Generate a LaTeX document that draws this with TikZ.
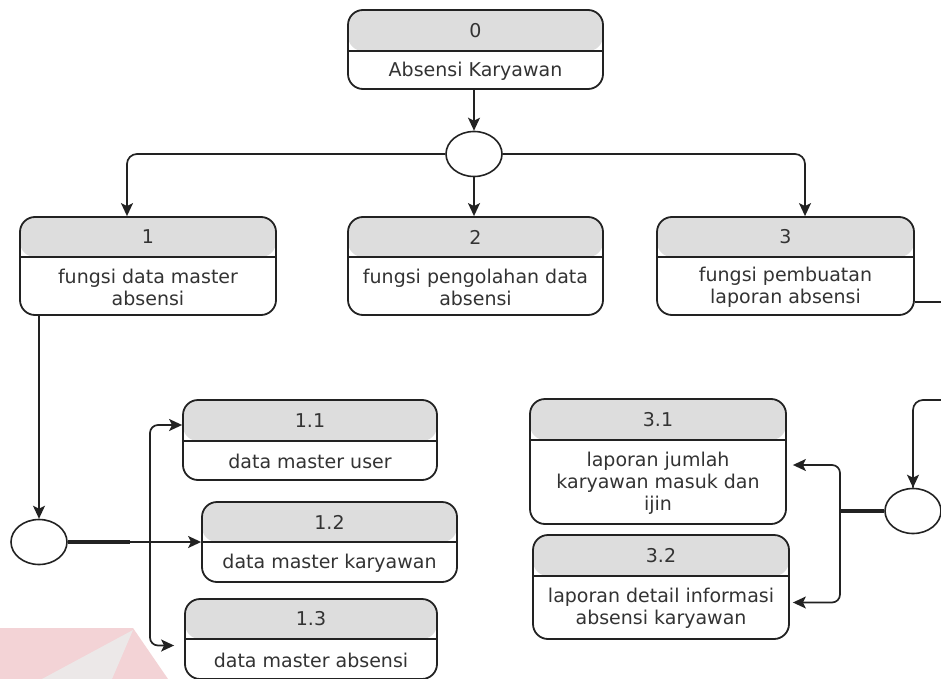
\documentclass[tikz,border=0pt]{standalone}
\usepackage{fontspec}
\setmainfont{DejaVu Sans}
\usetikzlibrary{arrows.meta,shapes.geometric}

\definecolor{linecol}{HTML}{222222}
\definecolor{txtcol}{HTML}{333333}
\definecolor{headfill}{HTML}{DDDDDD}
\definecolor{markpink}{HTML}{F3D3D6}
\definecolor{markgrey}{HTML}{ECE8E8}

\tikzset{
  procbox/.style={draw=linecol, line width=1.8pt, rounded corners=15pt,
    fill=white, inner sep=0pt},
  numtext/.style={text=txtcol, font=\fontsize{19}{22}\selectfont, inner sep=0pt},
  bodytext/.style={text=txtcol, font=\fontsize{19}{22}\selectfont, align=center,
    inner sep=0pt},
  junction/.style={draw=linecol, line width=1.6pt, ellipse, fill=white,
    minimum width=56pt, minimum height=45pt, inner sep=0pt},
  flow/.style={draw=linecol, line width=1.7pt},
  arr/.style={flow, -{Stealth[length=13pt,width=12pt,inset=3pt]}},
  trunk/.style={draw=linecol, line width=3.2pt},
}

% box: name, left, top, right, bottom, divider, number, body text
\newcommand\procnode[8]{%
  \node[procbox, minimum width={(#4-#2)*1pt}, minimum height={(#5-#3)*1pt},
    path picture={%
      \fill[headfill] (path picture bounding box.north west) rectangle
        ([yshift={-(#6-#3)*1pt}]path picture bounding box.north east);
      \draw[linecol, line width=1.8pt]
        ([yshift={-(#6-#3)*1pt}]path picture bounding box.north west) --
        ([yshift={-(#6-#3)*1pt}]path picture bounding box.north east);}]
    (#1) at ({(#2+#4)/2},{(#3+#5)/2}) {};
  \node[numtext] (#1-num) at ({(#2+#4)/2},{(#3+#6)/2}) {#7};
  \node[bodytext] (#1-txt) at ({(#2+#4)/2},{(#6+#5)/2+1}) {#8};
}

\begin{document}
\begin{tikzpicture}[x=1pt, y=-1pt]
  \clip (0,0) rectangle (941,679);
  \fill[white] (0,0) rectangle (941,679);

  % faint logo mark in the lower left corner
  \fill[markpink] (0,628) -- (133,628) -- (168,679) -- (0,679) -- cycle;
  \fill[markgrey] (133,630) -- (42,679) -- (112,679) -- cycle;

  % process boxes
  \procnode{p0}{348}{10}{603}{89}{51}{0}{Absensi Karyawan}
  \procnode{p1}{20}{217}{276}{315}{257}{1}{fungsi data master\\absensi}
  \procnode{p2}{348}{217}{603}{315}{257}{2}{fungsi pengolahan data\\absensi}
  \procnode{p3}{657}{217}{914}{315}{257}{3}{fungsi pembuatan\\laporan absensi}
  \procnode{p11}{183}{400}{437}{480}{441}{1.1}{data master user}
  \procnode{p12}{202}{502}{457}{582}{542}{1.2}{data master karyawan}
  \procnode{p13}{185}{599}{437}{679}{639}{1.3}{data master absensi}
  \procnode{p31}{530}{399}{786}{524}{440}{3.1}{laporan jumlah\\karyawan masuk dan\\ijin}
  \procnode{p32}{533}{535}{789}{639}{576}{3.2}{laporan detail informasi\\absensi karyawan}

  % junctions
  \node[junction] (e0) at (474,154) {};
  \node[junction] (e1) at (39,542) {};
  \node[junction] (e3) at (913,511) {};

  % top level
  \draw[arr] (p0.south -| e0) -- (e0.north);
  \draw[arr, rounded corners=10pt] (e0.west) -| ([xshift=-21pt]p1.north);
  \draw[arr] (e0.south) -- (p2.north -| e0);
  \draw[arr, rounded corners=10pt] (e0.east) -| ([xshift=19.5pt]p3.north);

  % branch of process 1
  \draw[arr] (p1.south -| e1) -- (e1.north);
  \coordinate (b1) at (150,542);
  \draw[flow] (e1.east) -- (b1);
  \draw[trunk] (e1.east) -- (130,542);
  \draw[arr, rounded corners=8pt] (b1) |- ([yshift=15pt]p11.west);
  \draw[arr] (b1) -- (p12.west);
  \draw[arr, rounded corners=8pt] (b1) |- ([xshift=-10pt,yshift=-6.5pt]p13.west);

  % branch of process 3
  \draw[flow, rounded corners=10pt] ([yshift=-36pt]p3.east) -- (990,302)
    -- (990,400) -| (e3.north);
  \draw[arr] (913,420) -- (e3.north);
  \coordinate (b3) at (840,511);
  \draw[trunk] (e3.west) -- (b3);
  \draw[arr, rounded corners=8pt] (b3) |- ([xshift=6pt,yshift=-3.5pt]p31.east);
  \draw[arr, rounded corners=8pt] (b3) |- ([xshift=3pt,yshift=-15.5pt]p32.east);
\end{tikzpicture}
\end{document}
